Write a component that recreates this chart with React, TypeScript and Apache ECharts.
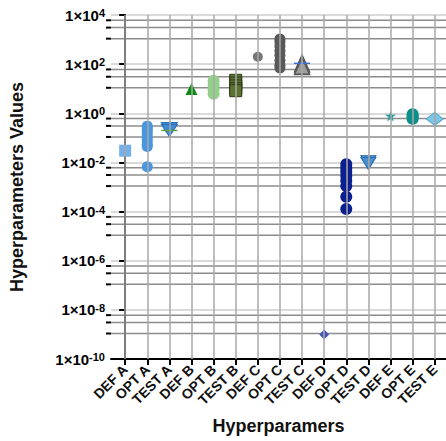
import React, { useEffect, useRef } from "react";
import * as echarts from "echarts";

const categories = ["DEF A","OPT A","TEST A","DEF B","OPT B","TEST B","DEF C","OPT C","TEST C","DEF D","OPT D","TEST D","DEF E","OPT E","TEST E"];
const yMajorValues = [1e-10, 1e-8, 1e-6, 1e-4, 1e-2, 1, 1e2, 1e4];
const minorFactors = [0.61, 0.307, 0.109];

const defA = [0.03];
const optA = [0.3, 0.24, 0.19, 0.14, 0.1, 0.075, 0.055, 0.045, 0.0067];
const testA = [0.24, 0.2];
const testAMean = [0.2];
const defB = [9.7];
const optB = [21, 14, 9.5, 6.2];
const testB = [22, 17, 13, 10, 8.3];
const defC = [200];
const optC = [1050, 800, 550, 350, 230, 140, 90, 70];
const testC = [107, 85];
const testCMean = [108];
const defD = [1e-9];
const optD = [0.0085, 0.006, 0.0042, 0.0028, 0.0018, 0.0011, 0.0004, 0.000127];
const testD = [0.011, 0.009];
const defE = [0.78];
const optE = [0.92, 0.8, 0.68, 0.59];
const testE = [0.59];

const FONT = "'Liberation Sans', Arial, Helvetica, sans-serif";
const STAR = "path://M50,0 L61,35 L98,35 L68,57 L79,91 L50,70 L21,91 L32,57 L2,35 L39,35 Z";

export default function App() {
  const ref = useRef<HTMLDivElement>(null);
  useEffect(() => {
    if (!ref.current) return;
    document.body.style.margin = "0";
    const chart = echarts.init(ref.current, null, { renderer: "svg" });
    const idx = (name: string) => categories.indexOf(name);
    const pts = (name: string, arr: number[]) => arr.map((v) => [idx(name), v]);

    const minorValues: number[] = [];
    yMajorValues.forEach((m) => {
      if (m > 1e-10) minorFactors.forEach((f) => minorValues.push(m * f));
    });

    const sc = (name: string, arr: number[], symbol: string, size: any, color: string, extra: any = {}) => ({
      type: "scatter",
      name,
      z: 3,
      data: pts(name, arr),
      symbol,
      symbolSize: size,
      itemStyle: { color, opacity: 1, ...(extra.itemStyle || {}) },
      symbolRotate: extra.rotate || 0,
      silent: true,
    });

    const option: any = {
      animation: false,
      backgroundColor: "#fff",
      grid: { left: 91, top: 15, right: 0, bottom: 82, containLabel: false },
      xAxis: {
        type: "value",
        min: -0.64,
        max: 14.51,
        name: "Hyperparamers",
        nameLocation: "middle",
        nameGap: 58,
        nameTextStyle: { fontFamily: FONT, fontWeight: "bold", fontSize: 18, color: "#111" },
        axisLine: { show: true, onZero: false, lineStyle: { color: "#000", width: 2 } },
        axisTick: { show: true, customValues: categories.map((_, i) => i), length: 6, lineStyle: { color: "#000", width: 2 } },
        axisLabel: {
          show: true,
          customValues: categories.map((_, i) => i),
          formatter: (v: number) => categories[Math.round(v)] ?? "",
          rotate: 45,
          margin: 8,
          fontFamily: FONT,
          fontWeight: "bold",
          fontSize: 14,
          color: "#111",
        },
        splitLine: { show: false },
      },
      yAxis: {
        type: "log",
        logBase: 10,
        min: 1e-10,
        max: 1e4,
        interval: 2,
        splitNumber: 7,
        name: "Hyperparameters Values",
        nameLocation: "middle",
        nameGap: 85,
        nameTextStyle: { fontFamily: FONT, fontWeight: "bold", fontSize: 18, color: "#111" },
        axisLine: { show: true, lineStyle: { color: "#000", width: 2 } },
        axisTick: { show: true, length: 6, lineStyle: { color: "#000", width: 2 } },
        axisLabel: {
          margin: 6,
          fontFamily: FONT,
          fontWeight: "bold",
          fontSize: 15,
          color: "#000",
          formatter: (v: number) => `{base|1×10}{sup|${Math.round(Math.log10(v))}}`,
          rich: {
            base: { fontFamily: FONT, fontWeight: "bold", fontSize: 15, color: "#000" },
            sup: { fontFamily: FONT, fontWeight: "bold", fontSize: 11, color: "#000", verticalAlign: "top" },
          },
        },
        splitLine: { show: true, lineStyle: { color: "#cccccc", width: 1.5 } },
      },
      series: [
        {
          type: "line",
          data: [],
          z: 1,
          silent: true,
          markLine: {
            silent: true,
            symbol: ["none", "none"],
            label: { show: false },
            animation: false,
            data: categories.map((_, i) => ({ xAxis: i, lineStyle: { color: "#a8a8a8", width: 1.5, type: "solid" } })),
          },
        },
        sc("DEF A", defA, "rect", 12, "#72b0ea"),
        sc("OPT A", optA, "circle", 11, "#4a96e0"),
        sc("TEST A", testA, "triangle", [16, 12], "#3d8ad6", { rotate: 180, itemStyle: { borderColor: "#2c6fb5", borderWidth: 1 } }),
        sc("TEST A", testAMean, "rect", [16, 1.5], "#5b9a3a"),
        sc("DEF B", defB, "triangle", 12, "#0b8a12"),
        sc("OPT B", optB, "circle", 12, "#93d18b"),
        sc("TEST B", testB, "rect", 12, "#5d7332", { itemStyle: { borderColor: "#2f3b19", borderWidth: 1 } }),
        sc("DEF C", defC, "circle", 10, "#777777"),
        sc("OPT C", optC, "circle", 11, "#595959"),
        sc("TEST C", testC, "triangle", [15, 17], "#9c9c9c", { itemStyle: { borderColor: "#555", borderWidth: 1.5 } }),
        sc("TEST C", testCMean, "rect", [16, 1.5], "#3a6fd8"),
        sc("DEF D", defD, "diamond", 10, "#4555b6"),
        sc("OPT D", optD, "circle", 12, "#0c1f90"),
        sc("TEST D", testD, "triangle", [15, 12], "#4a8fd0", { rotate: 180, itemStyle: { borderColor: "#2b6aa8", borderWidth: 1 } }),
        sc("DEF E", defE, STAR, 11, "#2a9d9d"),
        sc("OPT E", optE, "circle", 12, "#0c8f8b"),
        sc("TEST E", testE, "diamond", [17, 13], "#7cc6e6", { itemStyle: { borderColor: "#5aa5c8", borderWidth: 1 } }),
      ],
    };
    chart.setOption(option);

    const x0 = chart.convertToPixel({ xAxisIndex: 0 }, -0.64) as number;
    const x1 = chart.convertToPixel({ xAxisIndex: 0 }, 14.51) as number;
    const els: any[] = [];
    minorValues.forEach((v) => {
      const y = chart.convertToPixel({ yAxisIndex: 0 }, v) as number;
      els.push({ type: "line", shape: { x1: x0, y1: y, x2: x1, y2: y }, style: { stroke: "#8c8c8c", lineWidth: 1.5 }, silent: true, z: 0, zlevel: 0 });
      els.push({ type: "line", shape: { x1: x0 - 5, y1: y, x2: x0, y2: y }, style: { stroke: "#000", lineWidth: 2 }, silent: true, z: 10 });
    });
    chart.setOption({ graphic: els });

    return () => chart.dispose();
  }, []);
  return <div ref={ref} style={{ width: 446, height: 441 }} />;
}
